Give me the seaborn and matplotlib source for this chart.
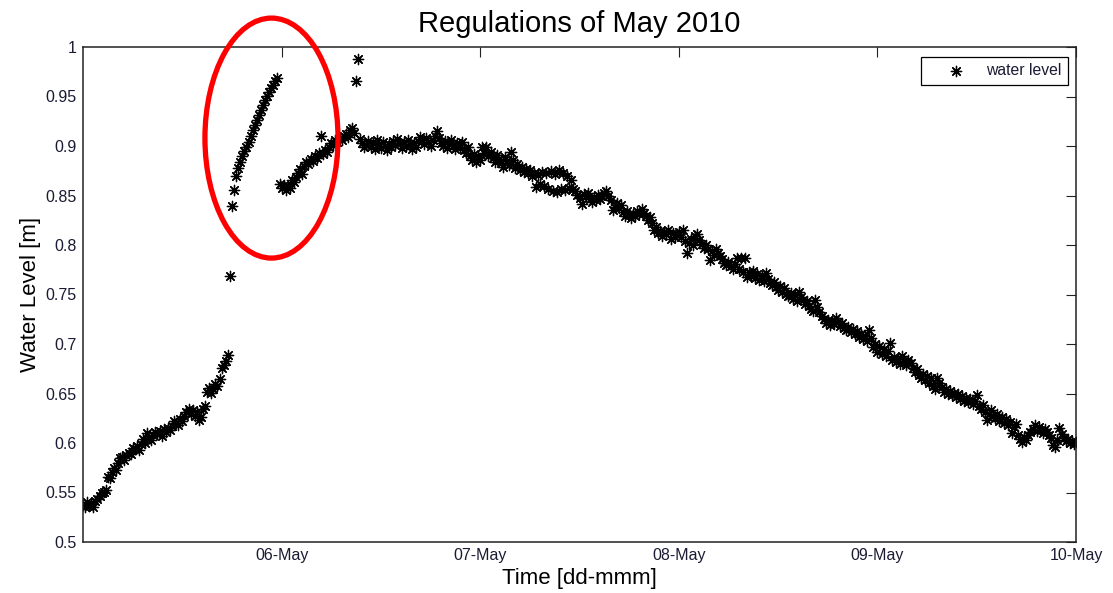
import matplotlib
matplotlib.use("Agg")
import numpy as np
import pandas as pd
import seaborn as sns
import matplotlib.pyplot as plt
import matplotlib.dates as mdates
from matplotlib.patches import Ellipse

# Water level readings [m], one every 15 minutes, grouped by day
level_may05 = [
    0.537, 0.535, 0.540, 0.536, 0.538, 0.535, 0.541, 0.543, 0.546, 0.549, 0.551, 0.553,
    0.566, 0.565, 0.571, 0.575, 0.573, 0.580, 0.585, 0.586, 0.583, 0.588, 0.590, 0.589,
    0.595, 0.594, 0.597, 0.593, 0.599, 0.604, 0.600, 0.610, 0.605, 0.603, 0.608, 0.611,
    0.609, 0.612, 0.607, 0.614, 0.611, 0.615, 0.613, 0.617, 0.622, 0.620, 0.618, 0.624,
    0.622, 0.627, 0.631, 0.634, 0.629, 0.633, 0.627, 0.631, 0.623, 0.626, 0.634, 0.637,
    0.652, 0.656, 0.651, 0.655, 0.660, 0.658, 0.665, 0.676, 0.679, 0.683, 0.689, 0.769,
    0.839, 0.856, 0.870, 0.878, 0.884, 0.890, 0.895, 0.899, 0.904, 0.910, 0.916, 0.921,
    0.926, 0.931, 0.936, 0.941, 0.946, 0.951, 0.955, 0.959, 0.962, 0.966, 0.969, 0.862,
]
level_may06 = [
    0.858, 0.861, 0.856, 0.860, 0.858, 0.866, 0.864, 0.869, 0.873, 0.877, 0.872, 0.880,
    0.884, 0.882, 0.887, 0.885, 0.890, 0.888, 0.893, 0.910, 0.892, 0.896, 0.894, 0.899,
    0.903, 0.901, 0.906, 0.904, 0.908, 0.906, 0.910, 0.912, 0.909, 0.916, 0.918, 0.913,
    0.966, 0.988, 0.907, 0.903, 0.899, 0.901, 0.905, 0.899, 0.903, 0.897, 0.906, 0.902,
    0.898, 0.904, 0.900, 0.896, 0.902, 0.899, 0.905, 0.901, 0.907, 0.903, 0.898, 0.904,
    0.900, 0.906, 0.902, 0.897, 0.903, 0.899, 0.905, 0.909, 0.906, 0.902, 0.908, 0.904,
    0.900, 0.906, 0.910, 0.915, 0.908, 0.903, 0.900, 0.905, 0.898, 0.902, 0.906, 0.900,
    0.897, 0.903, 0.899, 0.904, 0.896, 0.893, 0.899, 0.890, 0.886, 0.892, 0.884, 0.889,
]
level_may07 = [
    0.886, 0.899, 0.893, 0.899, 0.890, 0.894, 0.888, 0.884, 0.891, 0.887, 0.883, 0.879,
    0.889, 0.885, 0.881, 0.894, 0.886, 0.878, 0.882, 0.876, 0.879, 0.874, 0.877, 0.873,
    0.876, 0.870, 0.873, 0.859, 0.871, 0.862, 0.874, 0.860, 0.873, 0.857, 0.875, 0.855,
    0.872, 0.854, 0.876, 0.857, 0.873, 0.856, 0.870, 0.858, 0.866, 0.857, 0.855, 0.851,
    0.847, 0.841, 0.852, 0.849, 0.853, 0.846, 0.843, 0.848, 0.845, 0.851, 0.846, 0.850,
    0.853, 0.855, 0.850, 0.845, 0.835, 0.838, 0.842, 0.837, 0.840, 0.833, 0.829, 0.834,
    0.830, 0.827, 0.831, 0.829, 0.834, 0.831, 0.836, 0.832, 0.829, 0.825, 0.828, 0.822,
    0.815, 0.818, 0.812, 0.814, 0.809, 0.813, 0.811, 0.815, 0.806, 0.812, 0.808, 0.811,
]
level_may08 = [
    0.813, 0.808, 0.815, 0.804, 0.792, 0.802, 0.806, 0.800, 0.809, 0.811, 0.805, 0.801,
    0.797, 0.800, 0.796, 0.785, 0.794, 0.790, 0.796, 0.792, 0.789, 0.786, 0.782, 0.780,
    0.783, 0.779, 0.776, 0.781, 0.787, 0.776, 0.787, 0.773, 0.787, 0.768, 0.773, 0.770,
    0.774, 0.767, 0.771, 0.765, 0.769, 0.764, 0.772, 0.766, 0.762, 0.760, 0.763, 0.758,
    0.755, 0.759, 0.753, 0.757, 0.751, 0.748, 0.752, 0.745, 0.749, 0.743, 0.753, 0.747,
    0.744, 0.740, 0.743, 0.738, 0.735, 0.733, 0.744, 0.737, 0.732, 0.728, 0.725, 0.721,
    0.724, 0.719, 0.723, 0.720, 0.726, 0.722, 0.718, 0.721, 0.716, 0.714, 0.717, 0.712,
    0.715, 0.710, 0.713, 0.707, 0.710, 0.705, 0.708, 0.703, 0.714, 0.706, 0.697, 0.700,
]
level_may09 = [
    0.692, 0.698, 0.690, 0.695, 0.688, 0.693, 0.701, 0.684, 0.687, 0.682, 0.685, 0.680,
    0.688, 0.683, 0.679, 0.684, 0.681, 0.676, 0.672, 0.675, 0.669, 0.666, 0.670, 0.664,
    0.668, 0.661, 0.666, 0.658, 0.655, 0.666, 0.661, 0.657, 0.652, 0.655, 0.650, 0.653,
    0.648, 0.651, 0.646, 0.649, 0.644, 0.647, 0.642, 0.645, 0.641, 0.644, 0.639, 0.642,
    0.648, 0.637, 0.634, 0.638, 0.631, 0.623, 0.629, 0.633, 0.627, 0.625, 0.629, 0.622,
    0.626, 0.620, 0.624, 0.618, 0.621, 0.610, 0.616, 0.619, 0.608, 0.604, 0.601, 0.606,
    0.603, 0.608, 0.611, 0.614, 0.618, 0.612, 0.616, 0.613, 0.610, 0.614, 0.611, 0.608,
    0.605, 0.598, 0.596, 0.603, 0.615, 0.609, 0.605, 0.602, 0.604, 0.600, 0.602, 0.599,
    0.601,
]

start_time = "2010-05-05 00:00"
sample_step = "15min"
day_ticks = ["2010-05-06", "2010-05-07", "2010-05-08", "2010-05-09", "2010-05-10"]
y_ticks = [0.5, 0.55, 0.6, 0.65, 0.7, 0.75, 0.8, 0.85, 0.9, 0.95, 1.0]
y_tick_labels = ["0.5", "0.55", "0.6", "0.65", "0.7", "0.75", "0.8", "0.85", "0.9", "0.95", "1"]

levels = level_may05 + level_may06 + level_may07 + level_may08 + level_may09
df = pd.DataFrame({
    "time": pd.date_range(start_time, periods=len(levels), freq=sample_step),
    "level": levels,
})

sns.set_theme(style="white")
plt.rcParams["font.family"] = ["Liberation Sans", "DejaVu Sans"]
text_color = "#1a1a33"

W, H = 1113, 593
fig = plt.figure(figsize=(W / 100, H / 100), dpi=100)
fig.patch.set_facecolor("white")
left, right, top, bottom = 83, 1076, 47, 542
ax = fig.add_axes([left / W, 1 - bottom / H, (right - left) / W, (bottom - top) / H])

# MATLAB-style asterisk marker: 8 spokes
sns.scatterplot(data=df, x="time", y="level", marker=(8, 2, 0), s=55,
                color="black", linewidth=0.95, label="water level", ax=ax)

t0 = mdates.date2num(pd.Timestamp(start_time))
ax.set_xlim(t0, mdates.date2num(pd.Timestamp(day_ticks[-1])))
ax.set_ylim(0.5, 1.0)
ax.set_xticks([mdates.date2num(pd.Timestamp(d)) for d in day_ticks])
ax.xaxis.set_major_formatter(mdates.DateFormatter("%d-%b"))
ax.set_yticks(y_ticks)
ax.set_yticklabels(y_tick_labels)

ax.tick_params(direction="in", length=7, width=0.8, top=True, right=True,
               labelsize=11.5, labelcolor=text_color, color="#222222", pad=4.5)
for sp in ax.spines.values():
    sp.set_color("#222222")
    sp.set_linewidth(1.1)
    sp.set_visible(True)

ax.set_title("Regulations of May 2010", fontsize=21, pad=11, color="black")
ax.set_xlabel("Time [dd-mmm]", fontsize=16, color="black")
ax.set_ylabel("Water Level [m]", fontsize=16, color="black")
ax.xaxis.set_label_coords(0.5, -0.052)
ax.yaxis.set_label_coords(-0.042, 0.5)

leg = ax.legend(loc="upper right", bbox_to_anchor=(0.992, 0.98), borderaxespad=0,
                fontsize=11.3, frameon=True, fancybox=False, framealpha=1,
                edgecolor="black", borderpad=0.42, handlelength=3.6,
                handletextpad=0.1)
leg.get_frame().set_linewidth(0.9)
for t in leg.get_texts():
    t.set_color(text_color)

# Highlight around the sensor jump before 06-May
ring = Ellipse((t0 + 0.949, 0.908), width=0.670, height=0.2424, fill=False,
               edgecolor="red", linewidth=3.8, clip_on=False, zorder=5)
ax.add_patch(ring)

fig.savefig("out.png", dpi=100, facecolor="white")
